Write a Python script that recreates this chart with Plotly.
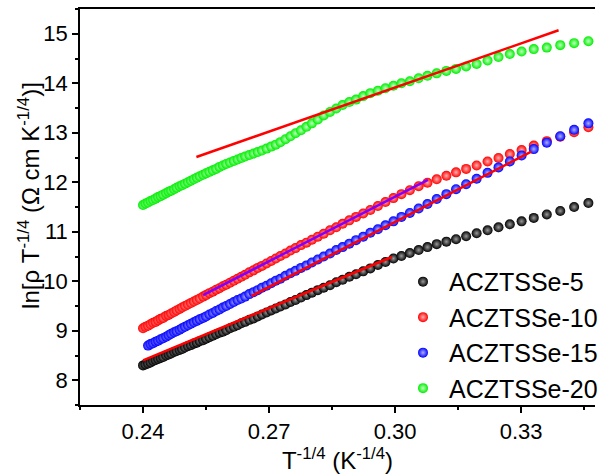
import plotly.graph_objects as go

# T^-1/4 values (K^-1/4) shared by the measured series
t_inv = [
    0.2400, 0.2406, 0.2412, 0.2418, 0.2424, 0.2430, 0.2436, 0.2442, 0.2448, 0.2455,
    0.2461, 0.2467, 0.2474, 0.2480, 0.2487, 0.2493, 0.2500, 0.2507, 0.2514, 0.2521,
    0.2528, 0.2535, 0.2543, 0.2550, 0.2558, 0.2566, 0.2574, 0.2582, 0.2590, 0.2598,
    0.2607, 0.2616, 0.2625, 0.2634, 0.2643, 0.2653, 0.2663, 0.2673, 0.2683, 0.2694,
    0.2705, 0.2716, 0.2727, 0.2739, 0.2751, 0.2763, 0.2776, 0.2789, 0.2802, 0.2816,
    0.2830, 0.2845, 0.2860, 0.2875, 0.2891, 0.2907, 0.2924, 0.2941, 0.2959, 0.2977,
    0.2996, 0.3015, 0.3035, 0.3056, 0.3077, 0.3099, 0.3122, 0.3145, 0.3169, 0.3194,
    0.3220, 0.3246, 0.3273, 0.3301, 0.3330, 0.3361, 0.3393, 0.3426, 0.3460,
]

# ln[rho T^-1/4] for each sample
ln_s5 = [
    8.30, 8.32, 8.34, 8.36, 8.39, 8.41, 8.43, 8.45, 8.47, 8.50,
    8.52, 8.54, 8.57, 8.59, 8.61, 8.63, 8.66, 8.69, 8.71, 8.74,
    8.76, 8.79, 8.81, 8.84, 8.87, 8.90, 8.93, 8.96, 8.98, 9.01,
    9.05, 9.08, 9.11, 9.15, 9.18, 9.22, 9.25, 9.29, 9.33, 9.37,
    9.41, 9.45, 9.49, 9.53, 9.58, 9.62, 9.67, 9.72, 9.77, 9.82,
    9.87, 9.92, 9.98, 10.03, 10.09, 10.14, 10.20, 10.26, 10.33, 10.39,
    10.46, 10.51, 10.57, 10.63, 10.69, 10.75, 10.80, 10.85, 10.91, 10.97,
    11.03, 11.09, 11.15, 11.21, 11.28, 11.35, 11.42, 11.50, 11.58,
]
ln_s10 = [
    9.05, 9.08, 9.10, 9.13, 9.16, 9.18, 9.21, 9.24, 9.26, 9.30,
    9.32, 9.35, 9.38, 9.41, 9.44, 9.47, 9.50, 9.53, 9.56, 9.59,
    9.62, 9.65, 9.69, 9.72, 9.76, 9.79, 9.83, 9.86, 9.90, 9.93,
    9.97, 10.01, 10.05, 10.09, 10.13, 10.18, 10.22, 10.27, 10.31, 10.36,
    10.41, 10.46, 10.51, 10.56, 10.62, 10.67, 10.73, 10.78, 10.84, 10.90,
    10.96, 11.03, 11.09, 11.16, 11.23, 11.30, 11.37, 11.44, 11.52, 11.60,
    11.68, 11.76, 11.84, 11.92, 11.99, 12.06, 12.13, 12.20, 12.27, 12.34,
    12.42, 12.49, 12.57, 12.65, 12.74, 12.83, 12.92, 13.01, 13.11,
]
# ACZTSSe-15 starts at the third temperature point
ln_s15 = [
    8.70, 8.73, 8.75, 8.78, 8.80, 8.83, 8.85, 8.88,
    8.91, 8.94, 8.97, 8.99, 9.02, 9.05, 9.08, 9.11, 9.14, 9.17,
    9.20, 9.23, 9.26, 9.29, 9.33, 9.36, 9.40, 9.43, 9.47, 9.50,
    9.54, 9.58, 9.62, 9.65, 9.69, 9.74, 9.78, 9.82, 9.87, 9.91,
    9.96, 10.01, 10.05, 10.11, 10.16, 10.21, 10.27, 10.32, 10.38, 10.44,
    10.50, 10.56, 10.63, 10.69, 10.76, 10.83, 10.90, 10.98, 11.05, 11.13,
    11.21, 11.30, 11.38, 11.47, 11.56, 11.66, 11.76, 11.86, 11.96, 12.07,
    12.19, 12.30, 12.42, 12.54, 12.67, 12.80, 12.93, 13.06, 13.19,
]
ln_s20 = [
    11.54, 11.57, 11.59, 11.62, 11.64, 11.67, 11.70, 11.72, 11.75, 11.78,
    11.81, 11.83, 11.86, 11.89, 11.92, 11.94, 11.97, 12.00, 12.03, 12.06,
    12.09, 12.12, 12.15, 12.18, 12.21, 12.24, 12.27, 12.31, 12.34, 12.37,
    12.40, 12.43, 12.46, 12.49, 12.52, 12.55, 12.58, 12.61, 12.64, 12.68,
    12.72, 12.76, 12.81, 12.87, 12.93, 12.99, 13.05, 13.12, 13.19, 13.27,
    13.35, 13.42, 13.49, 13.56, 13.62, 13.67, 13.74, 13.80, 13.85, 13.90,
    13.95, 14.00, 14.04, 14.10, 14.15, 14.20, 14.25, 14.29, 14.34, 14.39,
    14.46, 14.53, 14.59, 14.64, 14.69, 14.72, 14.77, 14.81, 14.85,
]

sample_names = ["ACZTSSe-5", "ACZTSSe-10", "ACZTSSe-15", "ACZTSSe-20"]

# Linear Mott-VRH fits: (x start, x end), (y start, y end)
fit_x = [[0.2400, 0.2992], [0.2543, 0.3078], [0.2658, 0.3324], [0.2527, 0.3389]]
fit_y = [[8.40, 10.49], [9.72, 12.05], [9.70, 12.62], [12.51, 15.07]]
fit_colors = ["#ff0000", "#8000ff", "#ff0000", "#ff0000"]

series = [
    (t_inv, ln_s5, "#000000", "#9a9a9a"),
    (t_inv, ln_s10, "#ff0000", "#ffb0b0"),
    (t_inv[2:], ln_s15, "#0000ff", "#b0b0ff"),
    (t_inv, ln_s20, "#00ee00", "#c0ffc0"),
]

fig = go.Figure()

for name, (xs, ys, col, hl) in zip(sample_names, series):
    fig.add_trace(go.Scatter(
        x=xs, y=ys, mode="markers", name=name,
        marker=dict(size=10, color=col, line=dict(width=0),
                    gradient=dict(type="radial", color=hl)),
    ))

for fx, fy, fc in zip(fit_x, fit_y, fit_colors):
    fig.add_trace(go.Scatter(
        x=fx, y=fy, mode="lines", showlegend=False,
        line=dict(color=fc, width=2.5),
    ))

font_family = "Liberation Sans, Arial, sans-serif"

fig.update_layout(
    width=603, height=474,
    margin=dict(l=80, r=0, t=9, b=69),
    paper_bgcolor="white", plot_bgcolor="white",
    font=dict(family=font_family, color="black", size=22),
    legend=dict(
        x=0.6157, y=0.369, xanchor="left", yanchor="top",
        font=dict(size=25), bgcolor="rgba(0,0,0,0)",
        itemwidth=42, tracegroupgap=0,
    ),
    xaxis=dict(
        range=[0.225, 0.34757], showgrid=False, zeroline=False,
        showline=True, linecolor="black", linewidth=1.5, mirror=True,
        ticks="outside", ticklen=6, tickwidth=1.5, tickcolor="black",
        tick0=0.24, dtick=0.03, tickformat=".2f",
        tickfont=dict(size=22),
        minor=dict(dtick=0.015, tick0=0.24, ticks="outside", ticklen=3.5,
                   tickwidth=1.5, tickcolor="black"),
        title=dict(text="T<sup>-1/4</sup> (K<sup>-1/4</sup>)",
                   font=dict(size=24), standoff=6),
    ),
    yaxis=dict(
        range=[7.5, 15.5], showgrid=False, zeroline=False,
        showline=True, linecolor="black", linewidth=1.5, mirror=False,
        ticks="outside", ticklen=6, tickwidth=1.5, tickcolor="black",
        tick0=8, dtick=1, tickfont=dict(size=22),
        minor=dict(dtick=0.5, ticks="outside", ticklen=3.5,
                   tickwidth=1.5, tickcolor="black"),
    ),
    annotations=[dict(
        text="ln[ρ T<sup>-1/4</sup> (Ω cm K<sup>-1/4</sup>)]",
        xref="paper", yref="paper", x=-0.0994, y=0.530,
        xanchor="center", yanchor="middle", textangle=-90,
        showarrow=False, font=dict(size=24),
    )],
)

fig.write_html("out.html")
